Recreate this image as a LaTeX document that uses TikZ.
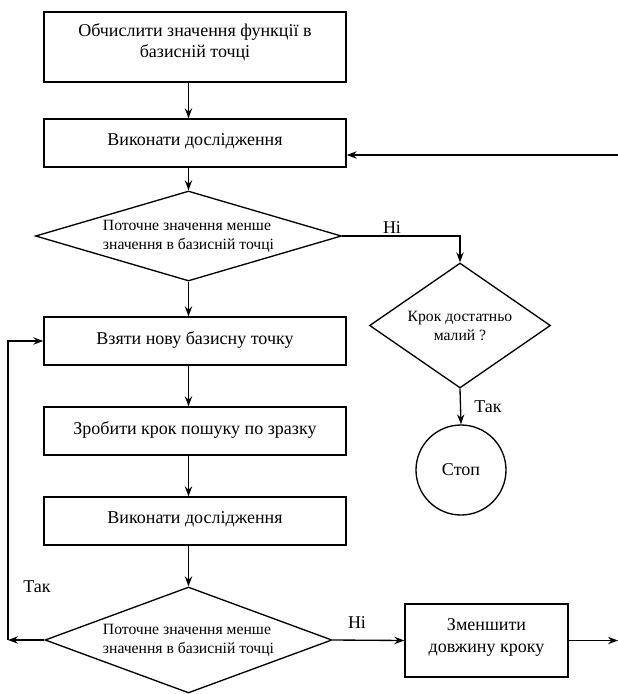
\documentclass[tikz,border=0pt]{standalone}
\usepackage{fontspec}
\setmainfont{Liberation Serif}
\usetikzlibrary{shapes.geometric,arrows.meta}

\tikzset{every picture/.style={line width=1pt}}
\tikzset{
  blok/.style={draw, rectangle, minimum width=226.5pt, minimum height=36pt, inner sep=0pt, align=center, text depth=5pt, font=\fontsize{13.5}{16}\selectfont},
  romb/.style={draw, diamond, inner sep=0pt, align=left, font=\fontsize{11.75}{14.25}\selectfont},
  napys/.style={inner sep=0.75pt, font=\fontsize{13.5}{16}\selectfont},
  strilka/.style={-{Stealth[length=7.5pt,width=5.5pt,inset=2.5pt]}}
}

\begin{document}
\begin{tikzpicture}[x=0.75pt,y=0.75pt,yscale=-1,xscale=1]
\useasboundingbox (0,0) rectangle (618,694);

% Blocks
\draw (195,47) node [blok, minimum height=52.5pt, text depth=10pt] (obch) {Обчислити значення функції в\\базисній точці};
\draw (195,143) node [blok] (vyk1) {Виконати дослідження};
\draw (188.5,236) node [romb, minimum width=229.5pt, minimum height=67.5pt, aspect=3.4] (perev1) {Поточне значення менше\\значення в базисній точці};
\draw (195,341) node [blok] (vzyaty) {Взяти нову базисну точку};
\draw (195,431) node [blok] (krok) {Зробити крок пошуку по зразку};
\draw (195,521) node [blok] (vyk2) {Виконати дослідження};
\draw (188.5,640) node [romb, minimum width=215.25pt, minimum height=79.5pt, aspect=2.7] (perev2) {Поточне значення менше\\значення в базисній точці};
\draw (460,325.5) node [romb, align=center, minimum width=135.75pt, minimum height=93.75pt, aspect=1.45] (malyi) {Крок достатньо\\малий ?};
\draw (461,470) node [draw, circle, minimum size=67.5pt, inner sep=0pt, font=\fontsize{13.5}{16}\selectfont] (stop) {Стоп};
\draw (486.5,640.5) node [blok, minimum width=122.25pt, minimum height=54.75pt, text depth=7pt, font=\fontsize{13.5}{16.5}\selectfont] (zmen) {Зменшити\\довжину кроку};

% Free ends
\coordinate (vkhid) at (618,155);
\coordinate (vykhid) at (618,640.5);
\coordinate (kut) at (8,640);

% Connectors
\draw [strilka] (obch.south -| perev1.north) -- (vyk1.north -| perev1.north);
\draw [strilka] (vyk1.south -| perev1.north) -- (perev1.north);
\draw [strilka] (perev1.south) -- (vzyaty.north -| perev1.south);
\draw [strilka] (vzyaty.south -| perev1.south) -- (krok.north -| perev1.south);
\draw [strilka] (krok.south -| perev1.south) -- (vyk2.north -| perev1.south);
\draw [strilka] (vyk2.south -| perev2.north) -- (perev2.north);
\draw [strilka] (vkhid) -- (vkhid -| vyk1.east);
\draw [strilka] (perev1.east) -| (malyi.north);
\draw [strilka] (malyi.south) -- (stop.north);
\draw [strilka] (perev2.east) -- (zmen.west);
\draw [strilka] (zmen.east) -- (vykhid);
\draw [strilka] (perev2.west) -- (kut);
\draw [strilka] (kut) |- (vzyaty.west);

% Text Node
\draw (392,228) node [napys] (ni1) {Ні};
% Text Node
\draw (488,407) node [napys] (tak1) {Так};
% Text Node
\draw (357,623) node [napys] (ni2) {Ні};
% Text Node
\draw (37,587) node [napys] (tak2) {Так};

\end{tikzpicture}
\end{document}
